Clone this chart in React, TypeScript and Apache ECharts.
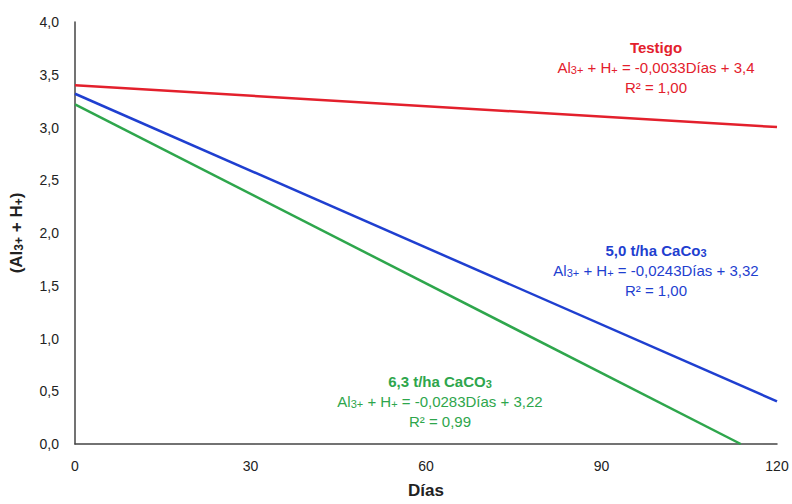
import React, { useEffect, useRef } from "react";
import * as echarts from "echarts";

const xTicks = [0, 30, 60, 90, 120];
const yTicks = [0, 0.5, 1, 1.5, 2, 2.5, 3, 3.5, 4];
const testigo: [number, number][] = [[0, 3.4], [120, 3.004]];
const caco5: [number, number][] = [[0, 3.32], [120, 0.404]];
const caco63: [number, number][] = [[0, 3.22], [113.8, 0]];

const RED = "#e3202c";
const BLUE = "#1f3fd0";
const GREEN = "#2ea64c";
const FONT = "Liberation Sans, Arial, sans-serif";

function eqText(coef: string, inter: string) {
  return `{a|Al}{s|3+}{a| + H}{s|+}{a| = -${coef}Días + ${inter}}`;
}

function annotation(x: number, y: number, color: string, title: string, coef: string, inter: string, r2: string, titleRich?: string) {
  const rich = {
    a: { fontSize: 15, fill: color, fontFamily: FONT },
    s: { fontSize: 11, fill: color, fontFamily: FONT, padding: [5, 0, 0, 0] },
    b: { fontSize: 15, fill: color, fontFamily: FONT, fontWeight: "bold" },
    bs: { fontSize: 11, fill: color, fontFamily: FONT, fontWeight: "bold", padding: [5, 0, 0, 0] },
  };
  return [
    { type: "text", x, y, style: { text: titleRich ?? `{b|${title}}`, rich, fill: color, align: "center", verticalAlign: "middle" } },
    { type: "text", x, y: y + 20, style: { text: eqText(coef, inter), rich, fill: color, align: "center", verticalAlign: "middle" } },
    { type: "text", x, y: y + 40, style: { text: `{a|R² = ${r2}}`, rich, fill: color, align: "center", verticalAlign: "middle" } },
  ];
}

export default function App() {
  const ref = useRef<HTMLDivElement>(null);
  useEffect(() => {
    const chart = echarts.init(ref.current!, undefined, { renderer: "svg" });
    chart.setOption({
      animation: false,
      backgroundColor: "#ffffff",
      grid: { left: 73, right: 15, top: 22, bottom: 58 },
      xAxis: {
        type: "value",
        min: 0,
        max: 120,
        interval: 30,
        name: "Días",
        nameLocation: "middle",
        nameGap: 38,
        nameTextStyle: { fontFamily: FONT, fontSize: 17, fontWeight: "bold", color: "#222" },
        axisLine: { lineStyle: { color: "#444", width: 1.5 } },
        axisTick: { show: false },
        splitLine: { show: false },
        axisLabel: { fontFamily: FONT, fontSize: 14, color: "#222", margin: 15, formatter: (v: number) => (xTicks.includes(v) ? String(v) : "") },
      },
      yAxis: {
        type: "value",
        min: 0,
        max: 4,
        interval: 0.5,
        name: "{n|(Al}{s|3+}{n| + H}{s|+}{n|)}",
        nameLocation: "middle",
        nameRotate: 90,
        nameGap: 50,
        nameTextStyle: {
          rich: {
            n: { fontFamily: FONT, fontSize: 17, fontWeight: "bold", color: "#222" },
            s: { fontFamily: FONT, fontSize: 12, fontWeight: "bold", color: "#222", padding: [5, 0, 0, 0] },
          },
        },
        axisLine: { show: true, lineStyle: { color: "#444", width: 1.5 } },
        axisTick: { show: false },
        splitLine: { show: false },
        axisLabel: {
          fontFamily: FONT, fontSize: 14, color: "#222", margin: 16,
          formatter: (v: number) => (yTicks.some((t) => Math.abs(t - v) < 1e-9) ? v.toFixed(1).replace(".", ",") : ""),
        },
      },
      series: [
        { type: "line", data: testigo, symbol: "none", lineStyle: { color: RED, width: 2.5 }, z: 3 },
        { type: "line", data: caco5, symbol: "none", lineStyle: { color: BLUE, width: 2.5 }, z: 3 },
        { type: "line", data: caco63, symbol: "none", lineStyle: { color: GREEN, width: 2.5 }, z: 3 },
      ],
      graphic: [
        ...annotation(656, 47, RED, "Testigo", "0,0033", "3,4", "1,00"),
        ...annotation(656, 250, BLUE, "", "0,0243", "3,32", "1,00", "{b|5,0 t/ha CaCo}{bs|3}"),
        ...annotation(440, 381, GREEN, "", "0,0283", "3,22", "0,99", "{b|6,3 t/ha CaCO}{bs|3}"),
      ],
    });
    return () => chart.dispose();
  }, []);
  return <div ref={ref} style={{ width: 792, height: 504, position: "absolute", left: 0, top: 0 }} />;
}
